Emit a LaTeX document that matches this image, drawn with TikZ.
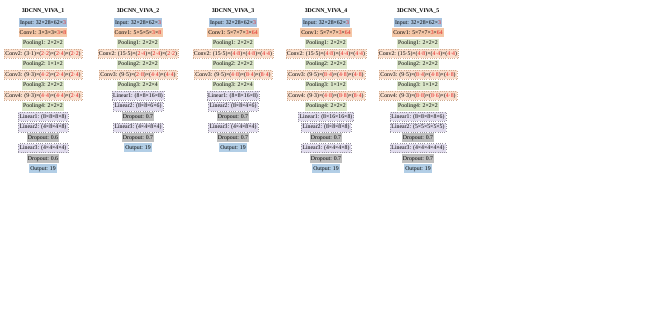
\documentclass[tikz,border=0pt]{standalone}
\usepackage{fontspec}
\setmainfont{Liberation Serif}
\usepackage{xcolor}
\usetikzlibrary{positioning,matrix}
\definecolor{inpc}{RGB}{169,196,224}
\definecolor{convc}{RGB}{250,222,204}
\definecolor{convi}{RGB}{245,200,168}
\definecolor{poolc}{RGB}{220,231,202}
\definecolor{linc}{RGB}{226,221,238}
\definecolor{dropc}{RGB}{190,190,190}
\definecolor{outc}{RGB}{178,206,230}
\definecolor{hotred}{RGB}{225,25,25}
\newcommand{\rd}[1]{\textcolor{hotred}{#1}}
\tikzset{
  netcol/.style={matrix of nodes, row sep=1.35pt, anchor=north,
                 nodes={font=\fontsize{5.8}{7}\selectfont, inner xsep=1.2pt, inner ysep=0.8pt,
                        minimum height=9pt, text height=1.05ex, text depth=0.3ex}},
  ttl/.style={font=\fontsize{5.8}{7}\selectfont\bfseries, inner sep=1pt},
  inp/.style={fill=inpc},
  cnv/.style={fill=convc, draw=convi!85!black, dotted, line width=0.25pt},
  cnvone/.style={fill=convi},
  pool/.style={fill=poolc},
  lin/.style={fill=linc, draw=linc!65!black, dotted, line width=0.25pt},
  drop/.style={fill=dropc},
  outp/.style={fill=outc}
}
\begin{document}
\begin{tikzpicture}[x=1pt,y=1pt]
\useasboundingbox (0,0) rectangle (667,-328);
\matrix (viva1) [netcol, at={(43,-14.5)}, label={[ttl]above:3DCNN\_VIVA\_1}] {
  |[inp]| Input: 32×28×62×\rd{3} \\
  |[cnvone]| Conv1: 3×3×3×\rd{3}×\rd{8} \\
  |[pool]| Pooling1: 2×2×2 \\
  |[cnv]| Conv2: (3·1)×(\rd{2·2})×(\rd{2·4})×(\rd{2·2}) \\
  |[pool]| Pooling2: 1×1×2 \\
  |[cnv]| Conv3: (9·3)×(\rd{4·2})×(\rd{2·4})×(\rd{2·4}) \\
  |[pool]| Pooling3: 2×2×2 \\
  |[cnv]| Conv4: (9·3)×(\rd{4·4})×(\rd{4·4})×(\rd{2·4}) \\
  |[pool]| Pooling4: 2×2×2 \\
  |[lin]| Linear1: (8×8×8×8) \\
  |[lin]| Linear2: (4×8×4×8) \\
  |[drop]| Dropout: 0.6 \\
  |[lin]| Linear3: (4×4×4×4) \\
  |[drop]| Dropout: 0.6 \\
  |[outp]| Output: 19 \\
};
\matrix (viva2) [netcol, at={(138,-14.5)}, label={[ttl]above:3DCNN\_VIVA\_2}] {
  |[inp]| Input: 32×28×62×\rd{3} \\
  |[cnvone]| Conv1: 5×5×5×\rd{3}×\rd{8} \\
  |[pool]| Pooling1: 2×2×2 \\
  |[cnv]| Conv2: (15·5)×(\rd{2·4})×(\rd{2·4})×(\rd{2·2}) \\
  |[pool]| Pooling2: 2×2×2 \\
  |[cnv]| Conv3: (9·5)×(\rd{2·8})×(\rd{4·4})×(\rd{4·4}) \\
  |[pool]| Pooling3: 2×2×4 \\
  |[lin]| Linear1: (8×8×16×8) \\
  |[lin]| Linear2: (8×8×6×6) \\
  |[drop]| Dropout: 0.7 \\
  |[lin]| Linear3: (4×4×8×4) \\
  |[drop]| Dropout: 0.7 \\
  |[outp]| Output: 19 \\
};
\matrix (viva3) [netcol, at={(233,-14.5)}, label={[ttl]above:3DCNN\_VIVA\_3}] {
  |[inp]| Input: 32×28×62×\rd{3} \\
  |[cnvone]| Conv1: 5×7×7×\rd{3}×\rd{64} \\
  |[pool]| Pooling1: 2×2×2 \\
  |[cnv]| Conv2: (15·5)×(\rd{4·8})×(\rd{4·8})×(\rd{4·4}) \\
  |[pool]| Pooling2: 2×2×2 \\
  |[cnv]| Conv3: (9·5)×(\rd{4·8})×(\rd{8·4})×(\rd{8·4}) \\
  |[pool]| Pooling3: 2×2×4 \\
  |[lin]| Linear1: (8×8×16×8) \\
  |[lin]| Linear2: (8×8×4×6) \\
  |[drop]| Dropout: 0.7 \\
  |[lin]| Linear3: (4×4×8×4) \\
  |[drop]| Dropout: 0.7 \\
  |[outp]| Output: 19 \\
};
\matrix (viva4) [netcol, at={(326,-14.5)}, label={[ttl]above:3DCNN\_VIVA\_4}] {
  |[inp]| Input: 32×28×62×\rd{3} \\
  |[cnvone]| Conv1: 5×7×7×\rd{3}×\rd{64} \\
  |[pool]| Pooling1: 2×2×2 \\
  |[cnv]| Conv2: (15·5)×(\rd{4·8})×(\rd{4·4})×(\rd{4·4}) \\
  |[pool]| Pooling2: 2×2×2 \\
  |[cnv]| Conv3: (9·5)×(\rd{8·4})×(\rd{4·8})×(\rd{4·8}) \\
  |[pool]| Pooling3: 1×1×2 \\
  |[cnv]| Conv4: (9·3)×(\rd{4·8})×(\rd{8·8})×(\rd{8·4}) \\
  |[pool]| Pooling4: 2×2×2 \\
  |[lin]| Linear1: (8×16×16×8) \\
  |[lin]| Linear2: (8×8×8×8) \\
  |[drop]| Dropout: 0.7 \\
  |[lin]| Linear3: (4×4×4×8) \\
  |[drop]| Dropout: 0.7 \\
  |[outp]| Output: 19 \\
};
\matrix (viva5) [netcol, at={(418,-14.5)}, label={[ttl]above:3DCNN\_VIVA\_5}] {
  |[inp]| Input: 32×28×62×\rd{3} \\
  |[cnvone]| Conv1: 5×7×7×\rd{3}×\rd{64} \\
  |[pool]| Pooling1: 2×2×2 \\
  |[cnv]| Conv2: (15·5)×(\rd{4·8})×(\rd{4·4})×(\rd{4·4}) \\
  |[pool]| Pooling2: 2×2×2 \\
  |[cnv]| Conv3: (9·5)×(\rd{8·4})×(\rd{4·8})×(\rd{4·8}) \\
  |[pool]| Pooling3: 1×1×2 \\
  |[cnv]| Conv4: (9·3)×(\rd{8·8})×(\rd{8·6})×(\rd{4·8}) \\
  |[pool]| Pooling4: 2×2×2 \\
  |[lin]| Linear1: (8×8×8×8×6) \\
  |[lin]| Linear2: (5×5×5×5×5) \\
  |[drop]| Dropout: 0.7 \\
  |[lin]| Linear3: (4×4×4×4×4) \\
  |[drop]| Dropout: 0.7 \\
  |[outp]| Output: 19 \\
};
\end{tikzpicture}
\end{document}
